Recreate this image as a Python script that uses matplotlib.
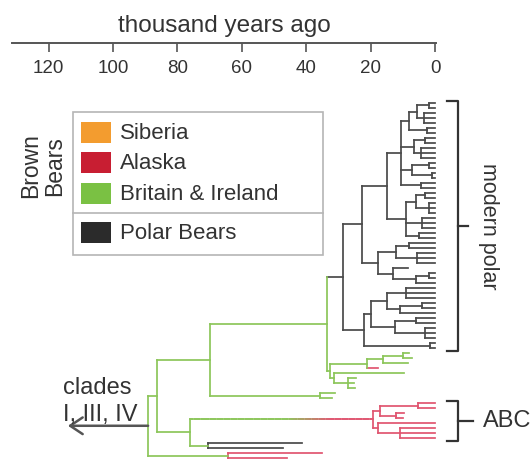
import numpy as np
import matplotlib
matplotlib.use("Agg")
import matplotlib.pyplot as plt
from matplotlib.patches import Rectangle
from matplotlib.colors import to_rgb
from matplotlib.collections import LineCollection

plt.rcParams["font.family"] = ["Liberation Sans", "DejaVu Sans"]

# legend
legend_regions = ["Siberia", "Alaska", "Britain & Ireland", "Polar Bears"]
legend_colours = ["#f39c2f", "#c81e32", "#7ac143", "#2b2b2b"]
tree_colours = {"britain": "#8cc65a", "alaska": "#e05570", "polar": "#4a4a4a"}

age_ticks = [0, 20, 40, 60, 80, 100, 120]
outgroup_age = 114.0

# Trees: a node is [age, child, child, ...], a tip is its sample age (kyr ago).
# (region, stem, subtree) switches region; stem is "parent", "own" or the
# (from, to) ages over which the stem changes from the parent's region.
polar_a1 = [14.9,
            [10.5,
             [8.0, [5.5, [2.0, 0, 0], [3.5, 0, 0, 0]], [2.5, 0, 0]],
             [6.5, [3.0, 0, 0], [4.5, 0, 0, 0]],
             [7.0, [2.0, 0, 0], [1.0, 0, 0]],
             [4.5, 0, 0]],
            [9.0, [6.0, [3.0, 0, 0], [2.0, 0, 0, 0]], [4.0, 0, 0, 0], [5.0, 0, 0]]]
polar_a2 = [17.7, [12.0, [8.0, 0, 0], [5.5, 0, 0, 0]], [13.0, 8.5, [6.0, [2.0, 0, 0], 0]]]
polar_b1 = [19.9, [15.0, [9.0, 0, 0, 0], [11.0, [4.0, 0, 0], 0]],
            [12.5, [6.0, 0, 0], [3.0, 0, 0, 0]]]
polar_b2 = [1.5, 0, 0]
polar_bears = [28.6, [22.7, polar_a1, polar_a2], [22.0, polar_b1, polar_b2]]

britain_cluster = [32.5,
                   [21.0, [16.0, [10.0, 8.0, 7.0], 8.5], ("alaska", "own", 17.7)],
                   [31.5, 9.5, [27.0, 24.5, 25.0, 24.8]]]
britain_pair = [35.7, 31.0, 32.0]
abc_bears = [19.3, [17.0, [5.3, 0, 0], [12.0, 9.5, 10.0]], [17.7, 0, [11.0, 0, 0, 0]]]
ancient_polar = [70.5, 41.3, 47.2]
ancient_alaska = [64.3, 35.0, 46.0]

tree = [89.1,
        [86.3,
         [69.9, [33.5, ("polar", "own", polar_bears), britain_cluster], britain_pair],
         [76.1, ("alaska", (46.0, 32.0), abc_bears), ("polar", "parent", ancient_polar)]],
        ("alaska", "parent", ancient_alaska)]

LW = 1.25
TEXT = "#333333"

fig = plt.figure(figsize=(5.31, 4.61), dpi=100)

# tree axes: x is age (kyr), y is tip index; 3.22 px per kyr, 5 px per tip
ax = fig.add_axes([0, 0, 1, 1])
ax.set_xlim(435 / 3.22, (435 - 531) / 3.22)
ax.set_ylim((461 - 103) / 5.0, -103 / 5.0)
ax.axis("off")
ax.patch.set_visible(False)

tip_counter = [0]
spans = {}


def draw_stem(a0, a1, y, c0, c1, stem):
    if stem == "parent" or stem == "own":
        col = c0 if stem == "parent" else c1
        ax.plot([a0, a1], [y, y], color=col, lw=LW, solid_capstyle="projecting")
        return
    fade_from, fade_to = stem
    xs = np.linspace(a0, a1, 80)
    mids = (xs[:-1] + xs[1:]) / 2
    mix = np.clip((fade_from - mids) / (fade_from - fade_to), 0, 1)[:, None]
    cols = (1 - mix) * np.array(to_rgb(c0)) + mix * np.array(to_rgb(c1))
    segs = [[(xs[i], y), (xs[i + 1], y)] for i in range(len(xs) - 1)]
    ax.add_collection(LineCollection(segs, colors=cols, linewidths=LW, capstyle="projecting"))


def place(node, parent_age=None, parent_col=None):
    col, stem = parent_col, "parent"
    if isinstance(node, tuple):
        region, stem, node = node
        col = tree_colours[region]
    first = tip_counter[0]
    if isinstance(node, list):
        age = node[0]
        ys = [place(kid, age, col) for kid in node[1:]]
        y = (ys[0] + ys[-1]) / 2
        ax.plot([age, age], [ys[0], ys[-1]], color=col, lw=LW, solid_capstyle="projecting")
    else:
        age = node
        y = tip_counter[0]
        tip_counter[0] += 1
    spans[id(node)] = (first, tip_counter[0] - 1)
    if parent_age is not None:
        draw_stem(parent_age, age, y, parent_col, col, stem)
    return y


root_y = place(tree, None, tree_colours["britain"])

# outgroup arrow towards the older clades
ax.annotate("", xy=(outgroup_age, root_y), xytext=(tree[0], root_y),
            arrowprops=dict(arrowstyle="->,head_length=0.45,head_width=0.3",
                            color="#555555", lw=1.8, mutation_scale=20,
                            shrinkA=0, shrinkB=0))


def bracket(node, mid_to, label, label_x, **kw):
    first, last = spans[id(node)]
    top, bot = first - 0.4, last + 0.6
    x_bar, x_in = -7.1, -3.7
    ax.plot([x_in, x_bar, x_bar, x_in], [top, top, bot, bot], color=TEXT, lw=1.6)
    mid = (top + bot) / 2
    ax.plot([x_bar, mid_to], [mid, mid], color=TEXT, lw=1.6)
    ax.text(label_x, mid, label, color=TEXT, va="center", **kw)


bracket(polar_bears, -10.2, "modern polar", -16.6, ha="center", rotation=-90, fontsize=15.5)
bracket(abc_bears, -11.8, "ABC", -14.9, ha="left", fontsize=17)

# time axis along the top
tax = fig.add_axes([12 / 531, (461 - 43) / 461, 424 / 531, 1 / 461])
tax.set_xlim(435 / 3.22 - 12 / 3.22, (435 - 436) / 3.22)
tax.set_xticks(age_ticks)
tax.set_yticks([])
for side in ("top", "left", "right"):
    tax.spines[side].set_visible(False)
tax.spines["bottom"].set_color("#555555")
tax.spines["bottom"].set_linewidth(1.4)
tax.tick_params(axis="x", direction="out", length=6.5, width=1.2, color="#555555",
                labelsize=13.5, labelcolor=TEXT, pad=5.5)
tax.patch.set_visible(False)

# overlay in pixel units for the legend and free text
ov = fig.add_axes([0, 0, 1, 1])
ov.set_xlim(0, 531)
ov.set_ylim(461, 0)
ov.axis("off")
ov.patch.set_visible(False)

ov.text(224, 32, "thousand years ago", ha="center", va="baseline", fontsize=17.5, color=TEXT)

ov.add_patch(Rectangle((73, 112), 250, 143, fill=False, ec="#b5b5b5", lw=1.2))
ov.plot([73, 323], [213, 213], color="#b5b5b5", lw=1.2)
for top, name, colour in zip([122, 152, 183, 222], legend_regions, legend_colours):
    ov.add_patch(Rectangle((81, top), 30, 21, fc=colour, ec="none"))
    ov.text(120, top + 11, name, va="center", fontsize=16, color=TEXT)
ov.text(43, 166, "Brown\nBears", rotation=90, ha="center", va="center",
        fontsize=16.5, linespacing=1.05, color=TEXT)

ov.text(63, 388, "clades", va="center", fontsize=17, color=TEXT)
ov.text(63, 415, "I, III, IV", va="center", fontsize=17, color=TEXT)

fig.savefig("out.png", dpi=100)
